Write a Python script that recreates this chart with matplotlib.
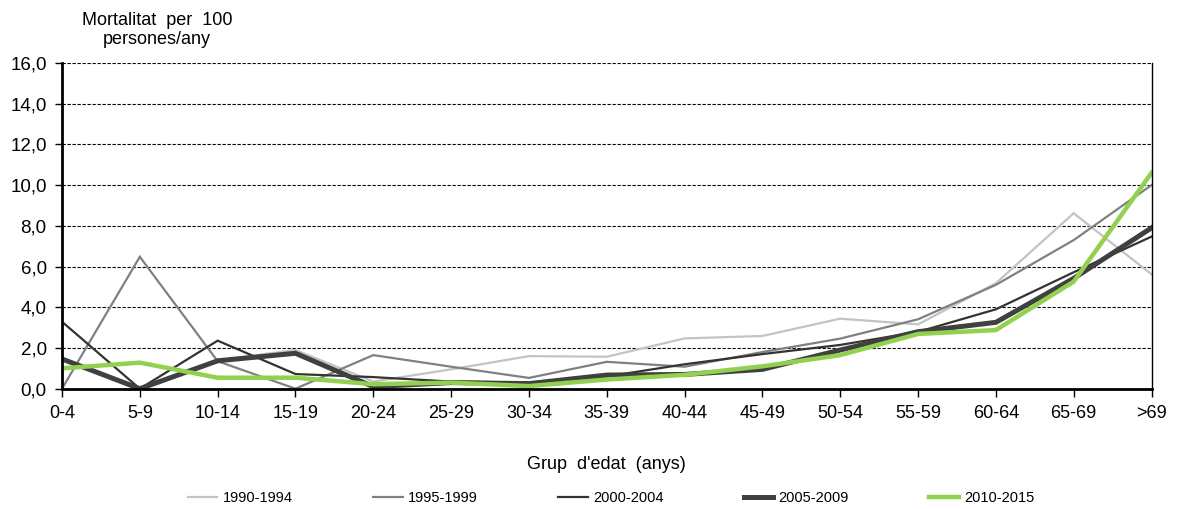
import matplotlib
matplotlib.use("Agg")
import matplotlib.pyplot as plt
from matplotlib.ticker import FuncFormatter, MultipleLocator

# age groups and mortality (per 100 persons/year) by period
grups = ['0-4', '5-9', '10-14', '15-19', '20-24', '25-29', '30-34', '35-39',
         '40-44', '45-49', '50-54', '55-59', '60-64', '65-69', '>69']
p1990_1994 = [1.5, 0.0, 1.4, 1.9, 0.35, 0.95, 1.6, 1.57, 2.47, 2.59, 3.44, 3.16, 5.18, 8.62, 5.62]
p1995_1999 = [0.0, 6.48, 1.35, 0.0, 1.65, 1.08, 0.53, 1.32, 1.08, 1.8, 2.46, 3.41, 5.1, 7.3, 10.0]
p2000_2004 = [3.29, 0.0, 2.36, 0.72, 0.57, 0.35, 0.3, 0.6, 1.2, 1.7, 2.15, 2.79, 3.9, 5.72, 7.47]
p2005_2009 = [1.46, 0.0, 1.37, 1.74, 0.1, 0.3, 0.25, 0.67, 0.7, 0.95, 1.9, 2.8, 3.26, 5.42, 7.9]
p2010_2015 = [1.0, 1.28, 0.54, 0.54, 0.22, 0.3, 0.13, 0.45, 0.68, 1.1, 1.65, 2.69, 2.88, 5.26, 10.6]

series = [
    ("1990-1994", p1990_1994, "#c3c3c3", 1.6),
    ("1995-1999", p1995_1999, "#808080", 1.6),
    ("2000-2004", p2000_2004, "#333333", 1.6),
    ("2005-2009", p2005_2009, "#404040", 3.6),
    ("2010-2015", p2010_2015, "#92d050", 3.2),
]

plt.rcParams['font.family'] = ['Liberation Sans', 'DejaVu Sans']

fig = plt.figure(figsize=(11.78, 5.09), dpi=100)
ax = fig.add_axes([62 / 1178, 1 - 388.7 / 509, (1151.5 - 62) / 1178, (388.7 - 63) / 509])

x = list(range(len(grups)))
for name, vals, color, lw in series:
    ax.plot(x, vals, color=color, linewidth=lw, label=name, solid_joinstyle='miter')

ax.set_xlim(0, len(grups) - 1)
ax.set_ylim(0, 16)
ax.set_xticks(x)
ax.set_xticklabels(grups, fontsize=13)
ax.yaxis.set_major_locator(MultipleLocator(2))
ax.yaxis.set_major_formatter(FuncFormatter(lambda v, p: f"{v:.1f}".replace('.', ',')))
ax.tick_params(axis='y', labelsize=13.5, length=5, width=1, pad=6)
ax.tick_params(axis='x', length=6, width=1, pad=6)

ax.grid(axis='y', color='black', linestyle=(0, (3, 1.5)), linewidth=0.8)
ax.set_axisbelow(True)
ax.spines['top'].set_visible(False)
ax.spines['left'].set_linewidth(2)
ax.spines['bottom'].set_linewidth(2)
ax.spines['right'].set_linewidth(1)

ax.set_xlabel("Grup  d'edat  (anys)", fontsize=13, labelpad=24)
fig.text(157 / 1178, 1 - 30 / 509, "Mortalitat  per  100\npersones/any", fontsize=13,
         ha='center', va='center', linespacing=1.2)

fig.legend(loc='center', bbox_to_anchor=(611 / 1178, 1 - 498 / 509), ncol=5, frameon=False,
           fontsize=10.5, handlelength=2.05, handletextpad=0.35, columnspacing=5.5)

plt.savefig("out.png", dpi=100)
